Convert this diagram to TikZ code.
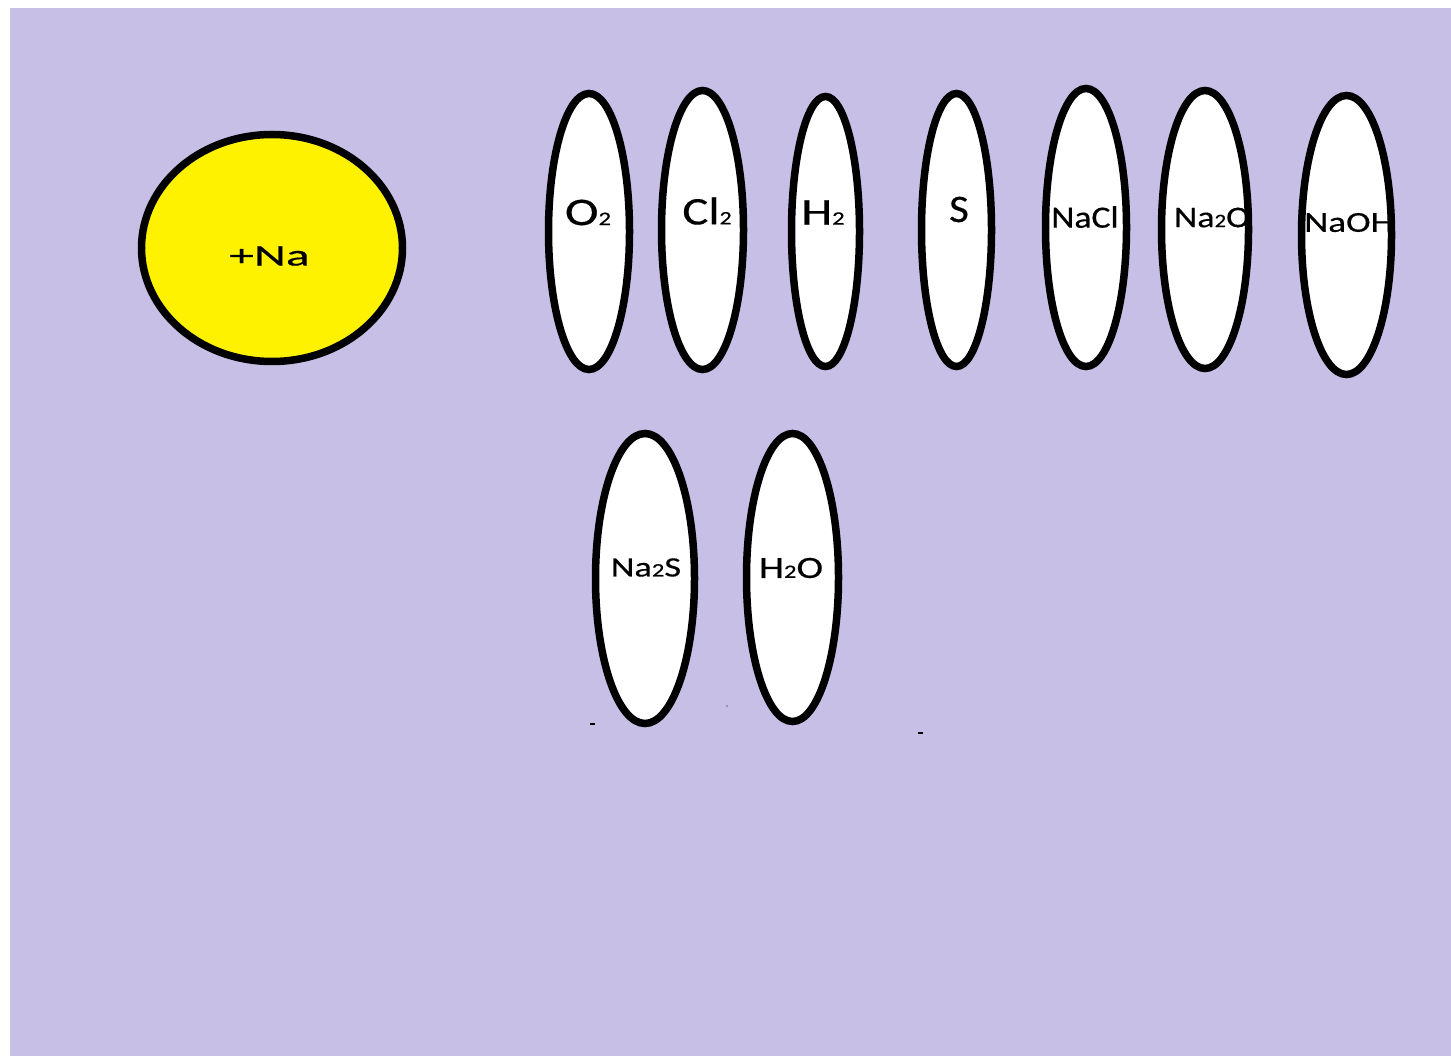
\documentclass[tikz,border=0pt]{standalone}
\usepackage{fontspec}
\setmainfont{Carlito}
\usepackage{graphicx}
\usetikzlibrary{shapes.geometric}
\definecolor{lavanda}{RGB}{200,191,231}
\definecolor{giallo}{RGB}{255,242,0}
\newcommand{\pd}[1]{{\fontsize{19}{19}\selectfont #1}} % pedice piccolo

\begin{document}
\begin{tikzpicture}[x=1pt, y=-1pt,
    bolla/.style={ellipse, draw=black, line width=7.5pt, fill=white, inner sep=0pt},
    etichetta/.style={inner sep=0pt, text=black, font=\addfontfeature{FakeBold=0.4}}]

% Sfondo
\useasboundingbox (0,0) rectangle (1451,1056);
\fill[white] (0,0) rectangle (1451,1056);
\fill[lavanda] (10,8) rectangle (1451,1056);

% Sodio
\node[bolla, fill=giallo, minimum width=261, minimum height=227] (na) at (272,248) {};

% Reagenti e prodotti
\foreach \n/\cx/\cy/\w/\h in {o2/589/231.5/81/276, cl2/702.5/230/82/279, h2/825.5/231.5/68/270,
    s/956.5/230/70/273, nacl/1086/227.5/81/278, na2o/1205/229.5/87/278,
    naoh/1346.5/235/90/279, na2s/645/578.5/99/290, h2o/792.5/577.5/92/288} {
    \node[bolla, minimum width=\w, minimum height=\h] (\n) at (\cx,\cy) {};
}

% Etichette
\foreach \n/\lx/\ly/\fs/\sx/\testo in {na/269.5/256/30/1.65/{+Na}, o2/588/212.5/39/1.3/{O\pd{2}},
    cl2/707/211/39/1.25/{Cl\pd{2}}, h2/823/212.5/38/1.3/{H\pd{2}}, s/959/209.5/39/1.1/{S},
    nacl/1085/217/31/1.15/{NaCl}, na2o/1212/217.5/30/1.2/{Na\pd{2}O}, naoh/1349/222.5/29/1.28/{NaOH},
    na2s/646/567.5/28/1.3/{Na\pd{2}S}, h2o/791/568/31/1.3/{H\pd{2}O}} {
    \node[etichetta] (\n-t) at (\lx,\ly) {\fontsize{\fs}{\fs}\selectfont\scalebox{\sx}[1]{\testo}};
}

% Segnetti sparsi
\draw[line width=1.5pt] (590,724) -- (595,724);
\draw[line width=1.5pt] (918,733) -- (923,733);
\fill[black!60] (727,706) circle (0.8);

\end{tikzpicture}
\end{document}
